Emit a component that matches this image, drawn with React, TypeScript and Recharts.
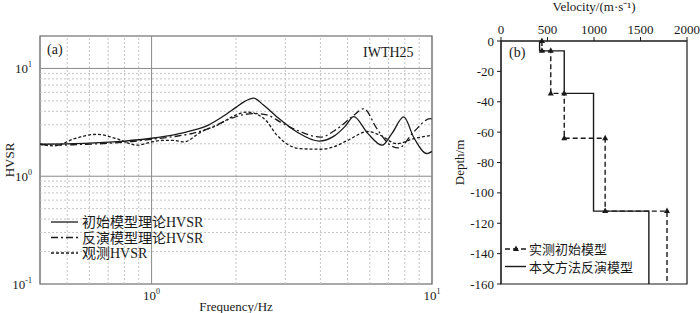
import React from 'react';
import {
  LineChart,
  Line,
  XAxis,
  YAxis,
  ReferenceLine,
  ReferenceArea,
  ScatterChart,
  Scatter,
} from 'recharts';

const FONT = "'Liberation Serif', 'Noto Sans CJK SC', serif";
const INK = '#1a1a1a';

// (a) HVSR curves
const initFreq = [0.4, 0.5, 0.6, 0.8, 1.0, 1.2, 1.4, 1.6, 1.8, 2.0, 2.15, 2.31, 2.5, 2.8, 3.3, 3.95, 4.5, 4.9, 5.26, 5.9, 6.64, 7.2, 7.93, 8.6, 9.6, 10];
const initHvsr = [1.98, 2.0, 2.03, 2.12, 2.25, 2.42, 2.66, 3.0, 3.6, 4.35, 4.95, 5.3, 4.6, 3.55, 2.57, 2.12, 2.38, 2.9, 3.58, 2.5, 1.94, 2.5, 3.55, 2.3, 1.62, 1.7];

const invFreq = [0.4, 0.45, 0.55, 0.7, 0.85, 1.0, 1.2, 1.4, 1.6, 1.9, 2.1, 2.35, 2.6, 2.88, 3.3, 4.0, 4.6, 5.26, 5.71, 6.36, 7.1, 7.6, 8.6, 9.85, 10];
const invHvsr = [1.98, 1.94, 1.97, 2.02, 2.1, 2.2, 2.33, 2.5, 2.78, 3.4, 3.7, 3.82, 3.68, 3.18, 2.67, 2.31, 2.76, 3.67, 4.24, 2.76, 1.94, 1.83, 2.57, 3.42, 3.4];

const obsFreq = [0.4, 0.45, 0.53, 0.64, 0.75, 0.89, 1.0, 1.1, 1.2, 1.3, 1.5, 1.75, 1.95, 2.19, 2.52, 2.8, 3.09, 3.4, 4.0, 4.4, 5.0, 5.9, 6.54, 7.5, 8.6, 10];
const obsHvsr = [1.98, 1.91, 2.23, 2.45, 2.23, 1.94, 2.08, 2.15, 2.15, 2.08, 2.57, 3.05, 3.6, 3.94, 3.42, 2.4, 1.94, 1.8, 1.78, 1.85, 2.15, 2.6, 2.4, 2.0, 2.23, 2.4];

const freqTicks = [1, 10];
const hvsrTicks = [0.1, 1, 10];
const freqMinor = [0.5, 0.6, 0.7, 0.8, 0.9, 2, 3, 4, 5, 6, 7, 8, 9];
const hvsrMinor = [0.2, 0.3, 0.4, 0.5, 0.6, 0.7, 0.8, 0.9, 2, 3, 4, 5, 6, 7, 8, 9];

// (b) velocity profiles (layer velocity, layer top depth)
const measuredVs = [440, 535, 680, 1120, 1785];
const measuredTops = [0, -6.5, -34.5, -64, -112];
const invertedVs = [415, 680, 995, 1590];
const invertedTops = [0, -6.5, -34.5, -112];
const maxDepth = -160;
const velTicks = [0, 500, 1000, 1500, 2000];
const depthTicks = [0, -20, -40, -60, -80, -100, -120, -140, -160];

const toPoints = (fs: number[], hs: number[]) => fs.map((f, i) => ({ f, h: hs[i] }));

const toSteps = (vs: number[], tops: number[]) =>
  vs.flatMap((v, i) => [
    { v, d: tops[i] },
    { v, d: i < tops.length - 1 ? tops[i + 1] : maxDepth },
  ]);

const hvsrSeries = [
  { name: '初始模型理论HVSR', data: toPoints(initFreq, initHvsr), dash: undefined },
  { name: '反演模型理论HVSR', data: toPoints(invFreq, invHvsr), dash: '7 3 2 3' },
  { name: '观测HVSR', data: toPoints(obsFreq, obsHvsr), dash: '3 2' },
];

function PowTick(props: any) {
  const { x, y, payload, axis } = props;
  const exp = Math.round(Math.log10(payload.value));
  const isY = axis === 'y';
  return (
    <text
      x={x}
      y={isY ? y + 5 : y + 8}
      textAnchor={isY ? 'end' : 'middle'}
      fontFamily={FONT}
      fontSize={13}
      fill={INK}
    >
      10
      <tspan dy={-6} fontSize={8}>{exp}</tspan>
    </text>
  );
}

function Triangle(props: any) {
  const { cx, cy, payload } = props;
  if (payload.d === maxDepth) return <g />;
  return <polygon points={`${cx},${cy - 3.5} ${cx - 3},${cy + 2} ${cx + 3},${cy + 2}`} fill={INK} />;
}

const textStyle: React.CSSProperties = {
  position: 'absolute',
  fontFamily: FONT,
  color: INK,
  whiteSpace: 'nowrap',
  lineHeight: 1,
};

const axisFont = { fill: INK, fontSize: 13, fontFamily: FONT };

export default function App() {
  return (
    <div style={{ position: 'absolute', left: 0, top: 0, width: 700, height: 313, background: '#fff', fontFamily: FONT }}>
      <div style={{ position: 'absolute', left: 0, top: 0 }}>
        <LineChart width={450} height={313} margin={{ top: 36, right: 18, bottom: 0, left: 0 }} style={{ fontFamily: FONT }}>
          <XAxis
            type="number"
            dataKey="f"
            scale="log"
            domain={[0.4, 10]}
            allowDataOverflow
            ticks={freqTicks}
            height={29}
            axisLine={false}
            tickLine={false}
            tick={<PowTick axis="x" />}
            label={{ value: 'Frequency/Hz', position: 'insideBottom', offset: 2, ...axisFont }}
          />
          <YAxis
            type="number"
            dataKey="h"
            scale="log"
            domain={[0.1, 20]}
            allowDataOverflow
            ticks={hvsrTicks}
            width={40}
            axisLine={false}
            tickLine={false}
            tick={<PowTick axis="y" />}
            label={{ value: 'HVSR', angle: -90, position: 'insideLeft', offset: 9, ...axisFont, style: { textAnchor: 'middle' } }}
          />
          {freqMinor.map((f) => (
            <ReferenceLine key={`fx${f}`} x={f} stroke="#c4c4c4" strokeDasharray="2 2" />
          ))}
          {hvsrMinor.map((h) => (
            <ReferenceLine key={`hy${h}`} y={h} stroke="#c4c4c4" strokeDasharray="2 2" />
          ))}
          <ReferenceLine x={1} stroke="#8a8a8a" />
          <ReferenceLine y={1} stroke="#8a8a8a" />
          <ReferenceLine y={10} stroke="#8a8a8a" />
          <ReferenceArea x1={0.4} x2={10} y1={0.1} y2={20} fill="none" stroke="#555" strokeWidth={1.2} />
          {hvsrSeries.map((s) => (
            <Line
              key={s.name}
              data={s.data}
              dataKey="h"
              type="monotone"
              stroke={INK}
              strokeWidth={1.3}
              strokeDasharray={s.dash}
              dot={false}
              isAnimationActive={false}
            />
          ))}
        </LineChart>
      </div>

      <div style={{ position: 'absolute', left: 450, top: 0 }}>
        <ScatterChart width={250} height={313} margin={{ top: 0, right: 13, bottom: 29, left: 0 }} style={{ fontFamily: FONT }}>
          <XAxis
            type="number"
            dataKey="v"
            orientation="top"
            domain={[0, 2000]}
            ticks={velTicks}
            height={41}
            tickSize={4}
            tickMargin={3}
            stroke={INK}
            tick={axisFont}
            label={{ value: 'Velocity/(m·s⁻¹)', position: 'insideTop', offset: 2, ...axisFont }}
          />
          <YAxis
            type="number"
            dataKey="d"
            domain={[maxDepth, 0]}
            ticks={depthTicks}
            width={51}
            tickSize={4}
            tickMargin={3}
            stroke={INK}
            tick={axisFont}
            label={{ value: 'Depth/m', angle: -90, position: 'insideLeft', offset: 9, ...axisFont, style: { textAnchor: 'middle' } }}
          />
          <ReferenceArea x1={0} x2={2000} y1={maxDepth} y2={0} fill="none" stroke={INK} strokeWidth={1.2} />
          <Scatter
            data={toSteps(measuredVs, measuredTops)}
            line={{ stroke: INK, strokeWidth: 1.4, strokeDasharray: '5 3' }}
            shape={<Triangle />}
            isAnimationActive={false}
          />
          <Scatter
            data={toSteps(invertedVs, invertedTops)}
            line={{ stroke: INK, strokeWidth: 1.4 }}
            shape={() => <g />}
            isAnimationActive={false}
          />
        </ScatterChart>
      </div>

      {/* panel annotations */}
      <div style={{ ...textStyle, left: 47, top: 43, fontSize: 14 }}>(a)</div>
      <div style={{ ...textStyle, left: 363, top: 46, fontSize: 14 }}>IWTH25</div>
      <div style={{ ...textStyle, left: 509, top: 46, fontSize: 14 }}>(b)</div>

      {/* legend (a) */}
      <svg style={{ position: 'absolute', left: 50, top: 213 }} width={170} height={50}>
        {hvsrSeries.map((s, i) => (
          <g key={s.name}>
            <line x1={1} x2={28} y1={9 + i * 15.5} y2={9 + i * 15.5} stroke={INK} strokeWidth={1.3} strokeDasharray={s.dash} />
            <text x={32} y={14 + i * 15.5} fontFamily={FONT} fontSize={14} fill={INK}>{s.name}</text>
          </g>
        ))}
      </svg>

      {/* legend (b) */}
      <svg style={{ position: 'absolute', left: 504, top: 241 }} width={150} height={36}>
        <line x1={1} x2={22} y1={8} y2={8} stroke={INK} strokeWidth={1.4} strokeDasharray="5 3" />
        <polygon points="12,4.5 9,10 15,10" fill={INK} />
        <text x={25} y={13} fontFamily={FONT} fontSize={13} fill={INK}>实测初始模型</text>
        <line x1={1} x2={22} y1={25.5} y2={25.5} stroke={INK} strokeWidth={1.4} />
        <text x={25} y={30.5} fontFamily={FONT} fontSize={13} fill={INK}>本文方法反演模型</text>
      </svg>
    </div>
  );
}
